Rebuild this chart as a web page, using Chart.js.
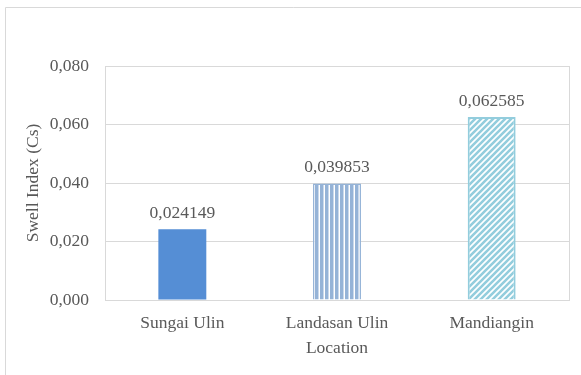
<!DOCTYPE html>
<html>
<head>
<meta charset="utf-8">
<script src="https://cdn.jsdelivr.net/npm/chart.js@4"></script>
<style>
    html, body { margin: 0; padding: 0; background: #ffffff; }
    #swellChart { display: block; }
</style>
</head>
<body>
<canvas id="swellChart" width="581" height="375"></canvas>
<script>
// Swell index per location
const categories = ['Sungai Ulin', 'Landasan Ulin', 'Mandiangin'];
const swellIndex = [0.024149, 0.039853, 0.062585];
const yMin = 0;
const yMax = 0.08;
const yStep = 0.02;

const TEXT_COLOR = '#595959';
const LINE_COLOR = '#d9d9d9';
const FONT_FAMILY = "'Liberation Serif', 'Times New Roman', serif";
const FONT_SIZE = 17.5;

// decimal comma like the original sheet
function fmt(value, digits) {
    const s = digits === undefined ? String(value) : value.toFixed(digits);
    return s.replace('.', ',');
}

// vertical stripes (Landasan Ulin)
function makeVerticalPattern(color) {
    const c = document.createElement('canvas');
    c.width = 5;
    c.height = 5;
    const g = c.getContext('2d');
    g.fillStyle = color;
    g.fillRect(0, 0, 5, 5);
    g.fillStyle = '#ffffff';
    g.fillRect(3.5, 0, 1.5, 5);
    return g.createPattern(c, 'repeat');
}

// upward diagonal stripes (Mandiangin)
function makeDiagonalPattern(color) {
    const n = 6;
    const c = document.createElement('canvas');
    c.width = n;
    c.height = n;
    const g = c.getContext('2d');
    g.fillStyle = '#ffffff';
    g.fillRect(0, 0, n, n);
    g.strokeStyle = color;
    g.lineWidth = 2.6;
    g.beginPath();
    g.moveTo(-1, n + 1); g.lineTo(n + 1, -1);
    g.moveTo(-1, 1); g.lineTo(1, -1);
    g.moveTo(n - 1, n + 1); g.lineTo(n + 1, n - 1);
    g.stroke();
    return g.createPattern(c, 'repeat');
}

const barFills = [
    '#558ed5',
    makeVerticalPattern('#95b3d7'),
    makeDiagonalPattern('#93cddd')
];
const barBorders = ['#558ed5', '#95b3d7', '#93cddd'];

// outer frame + plot area box
const framePlugin = {
    id: 'frame',
    beforeDraw(chart) {
        const ctx = chart.ctx;
        ctx.save();
        ctx.strokeStyle = LINE_COLOR;
        ctx.lineWidth = 1;
        ctx.beginPath();
        ctx.moveTo(5.5, chart.height);
        ctx.lineTo(5.5, 7.5);
        ctx.lineTo(chart.width, 7.5);
        ctx.stroke();
        ctx.restore();
    },
    beforeDatasetsDraw(chart) {
        const a = chart.chartArea;
        const ctx = chart.ctx;
        ctx.save();
        ctx.strokeStyle = LINE_COLOR;
        ctx.lineWidth = 1;
        ctx.strokeRect(Math.round(a.left) + 0.5, Math.round(a.top) + 0.5,
            Math.round(a.right - a.left), Math.round(a.bottom - a.top));
        ctx.restore();
    }
};

// value labels above bars
const valueLabelPlugin = {
    id: 'valueLabels',
    afterDatasetsDraw(chart) {
        const ctx = chart.ctx;
        const meta = chart.getDatasetMeta(0);
        ctx.save();
        ctx.fillStyle = TEXT_COLOR;
        ctx.font = FONT_SIZE + 'px ' + FONT_FAMILY;
        ctx.textAlign = 'center';
        ctx.textBaseline = 'alphabetic';
        meta.data.forEach((bar, i) => {
            ctx.fillText(fmt(swellIndex[i]), bar.x, bar.y - 11);
        });
        ctx.restore();
    }
};

new Chart(document.getElementById('swellChart'), {
    type: 'bar',
    data: {
        labels: categories,
        datasets: [{
            label: 'Swell Index (Cs)',
            data: swellIndex,
            backgroundColor: barFills,
            borderColor: barBorders,
            borderWidth: [0, 1.5, 2],
            barPercentage: 0.31,
            categoryPercentage: 1
        }]
    },
    options: {
        responsive: false,
        devicePixelRatio: 1,
        animation: false,
        layout: {
            padding: { top: 66, right: 12, left: 0, bottom: 0 }
        },
        plugins: {
            legend: { display: false },
            tooltip: { enabled: false }
        },
        scales: {
            x: {
                grid: { display: false },
                border: { display: false },
                ticks: {
                    color: TEXT_COLOR,
                    padding: 5,
                    font: { family: FONT_FAMILY, size: FONT_SIZE }
                },
                title: {
                    display: true,
                    text: 'Location',
                    color: TEXT_COLOR,
                    padding: { top: 16.5, bottom: 16.5 },
                    font: { family: FONT_FAMILY, size: FONT_SIZE }
                },
                afterFit(scale) { scale.height = 75; }
            },
            y: {
                min: yMin,
                max: yMax,
                grid: { color: LINE_COLOR, drawTicks: false },
                border: { display: false },
                ticks: {
                    stepSize: yStep,
                    color: TEXT_COLOR,
                    padding: 16,
                    font: { family: FONT_FAMILY, size: FONT_SIZE },
                    callback: (value) => fmt(value, 3)
                },
                title: {
                    display: true,
                    text: 'Swell Index (Cs)',
                    color: TEXT_COLOR,
                    padding: { top: 23, bottom: 0 },
                    font: { family: FONT_FAMILY, size: FONT_SIZE }
                },
                afterFit(scale) { scale.width = 105; }
            }
        }
    },
    plugins: [framePlugin, valueLabelPlugin]
});
</script>
</body>
</html>
